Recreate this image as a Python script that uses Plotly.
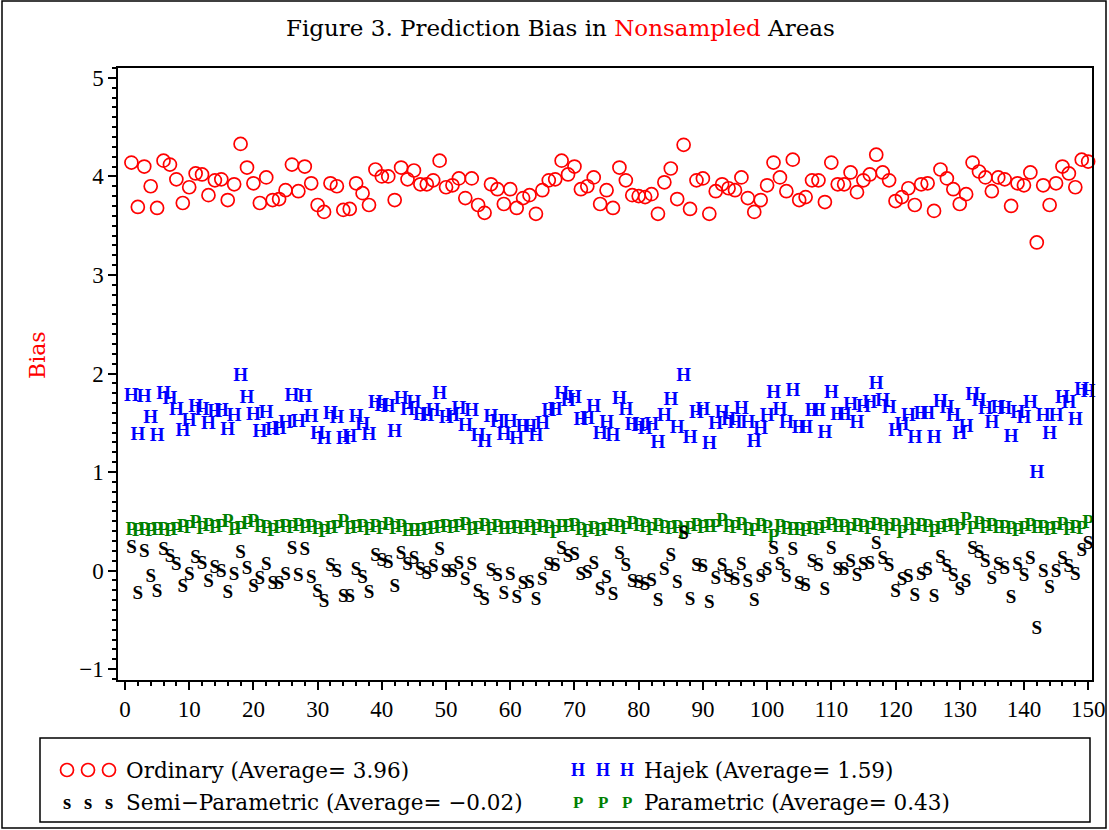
import plotly.graph_objects as go

area = list(range(1, 151))

ordinary = [4.14,3.69,4.10,3.90,3.68,4.16,4.12,3.97,3.73,3.89,
            4.03,4.02,3.81,3.96,3.97,3.76,3.92,4.33,4.09,3.93,
            3.73,3.99,3.76,3.77,3.86,4.12,3.85,4.10,3.93,3.71,
            3.64,3.93,3.90,3.66,3.67,3.93,3.83,3.71,4.07,4.00,
            4.00,3.76,4.09,3.97,4.06,3.92,3.92,3.96,4.16,3.89,
            3.91,3.98,3.78,3.98,3.71,3.63,3.92,3.87,3.72,3.87,
            3.68,3.78,3.81,3.62,3.86,3.96,3.97,4.16,4.02,4.10,
            3.87,3.90,3.99,3.72,3.86,3.68,4.09,3.96,3.81,3.80,
            3.79,3.82,3.62,3.94,4.08,3.77,4.32,3.67,3.96,3.98,
            3.62,3.85,3.92,3.88,3.86,3.99,3.78,3.64,3.76,3.91,
            4.14,3.99,3.85,4.17,3.76,3.79,3.96,3.96,3.74,4.14,
            3.92,3.92,4.04,3.84,3.96,4.02,4.22,4.04,3.96,3.75,
            3.79,3.88,3.71,3.92,3.93,3.65,4.07,3.98,3.87,3.72,
            3.82,4.14,4.05,3.99,3.85,3.99,3.97,3.70,3.93,3.91,
            4.04,3.33,3.91,3.71,3.93,4.10,4.03,3.89,4.17,4.15]

hajek = [1.77,1.37,1.76,1.55,1.36,1.79,1.74,1.63,1.41,1.52,
         1.66,1.63,1.49,1.61,1.62,1.42,1.57,1.97,1.75,1.58,
         1.40,1.60,1.42,1.43,1.50,1.77,1.51,1.76,1.56,1.38,
         1.33,1.59,1.55,1.33,1.35,1.56,1.48,1.37,1.70,1.67,
         1.66,1.40,1.74,1.63,1.70,1.58,1.57,1.62,1.79,1.55,
         1.57,1.64,1.46,1.62,1.36,1.30,1.56,1.51,1.37,1.51,
         1.33,1.45,1.45,1.36,1.49,1.62,1.63,1.79,1.72,1.75,
         1.53,1.54,1.66,1.38,1.50,1.36,1.74,1.63,1.47,1.46,
         1.43,1.47,1.29,1.57,1.73,1.44,1.97,1.34,1.60,1.63,
         1.28,1.49,1.60,1.53,1.50,1.64,1.50,1.30,1.43,1.57,
         1.80,1.63,1.50,1.82,1.44,1.44,1.62,1.62,1.39,1.80,
         1.58,1.58,1.68,1.50,1.66,1.70,1.89,1.72,1.65,1.41,
         1.48,1.57,1.34,1.59,1.59,1.34,1.71,1.65,1.57,1.38,
         1.45,1.78,1.72,1.64,1.50,1.65,1.64,1.35,1.60,1.55,
         1.70,0.99,1.57,1.38,1.57,1.75,1.70,1.53,1.83,1.81]

parametric = [0.41,0.40,0.41,0.40,0.41,0.41,0.40,0.41,0.44,0.43,
              0.48,0.42,0.45,0.43,0.44,0.49,0.41,0.42,0.47,0.49,
              0.44,0.43,0.40,0.43,0.44,0.43,0.45,0.43,0.44,0.42,
              0.39,0.42,0.43,0.49,0.42,0.43,0.44,0.41,0.44,0.42,
              0.46,0.42,0.44,0.40,0.40,0.40,0.41,0.42,0.43,0.44,
              0.43,0.44,0.46,0.41,0.42,0.45,0.41,0.44,0.42,0.42,
              0.43,0.42,0.44,0.41,0.44,0.43,0.38,0.44,0.44,0.45,
              0.41,0.39,0.42,0.40,0.41,0.45,0.44,0.42,0.47,0.45,
              0.44,0.41,0.45,0.43,0.42,0.43,0.38,0.42,0.45,0.43,
              0.44,0.44,0.50,0.44,0.43,0.46,0.41,0.40,0.45,0.43,
              0.34,0.44,0.42,0.41,0.41,0.40,0.42,0.41,0.43,0.46,
              0.44,0.44,0.41,0.45,0.44,0.42,0.46,0.45,0.41,0.45,
              0.38,0.46,0.41,0.45,0.44,0.39,0.42,0.44,0.45,0.41,
              0.51,0.42,0.47,0.43,0.45,0.43,0.43,0.42,0.40,0.42,
              0.45,0.43,0.43,0.41,0.42,0.46,0.41,0.43,0.42,0.48]

semi = [0.23,-0.24,0.19,-0.07,-0.22,0.21,0.14,0.05,-0.17,-0.05,
        0.13,0.06,-0.12,0.02,-0.02,-0.23,-0.05,0.18,0.01,-0.17,
        -0.09,0.05,-0.14,-0.14,-0.05,0.22,-0.06,0.21,-0.08,-0.22,
        -0.32,0.04,-0.02,-0.27,-0.27,0.00,-0.08,-0.23,0.15,0.10,
        0.07,-0.17,0.17,0.05,0.12,0.00,-0.04,0.03,0.21,-0.02,
        -0.02,0.06,-0.10,0.05,-0.22,-0.30,-0.01,-0.06,-0.24,-0.05,
        -0.28,-0.14,-0.13,-0.30,-0.10,0.05,0.04,0.22,0.14,0.16,
        -0.05,-0.03,0.06,-0.20,-0.08,-0.25,0.17,0.04,-0.12,-0.13,
        -0.15,-0.11,-0.31,0.00,0.15,-0.13,0.37,-0.30,0.04,0.03,
        -0.33,-0.09,0.04,-0.07,-0.10,0.05,-0.12,-0.31,-0.07,0.00,
        0.22,0.05,-0.07,0.21,-0.14,-0.16,0.08,0.04,-0.20,0.22,
        0.00,0.00,0.08,-0.06,0.05,0.06,0.27,0.12,0.04,-0.22,
        -0.10,-0.07,-0.26,-0.05,0.00,-0.27,0.13,0.03,-0.06,-0.20,
        -0.12,0.22,0.18,0.08,-0.09,0.05,0.01,-0.28,0.05,-0.06,
        0.12,-0.59,-0.02,-0.18,-0.02,0.12,0.03,-0.05,0.20,0.27]

legend_labels = ["Ordinary (Average= 3.96)", "Hajek (Average= 1.59)",
                 "Semi\u2212Parametric (Average= \u22120.02)", "Parametric (Average= 0.43)"]

RED, BLUE, GREEN, BLACK = "#ff0000", "#0000ff", "#008000", "#000000"
SERIF = "DejaVu Serif"
TIMES = "Liberation Serif"

W, H = 1109, 830
L, R, T, B = 118, 1092, 68, 680


def px(x):
    return (x - L) / (R - L)


def py(y):
    return (B - y) / (B - T)


def symfont(color, size=19, bold=True):
    return dict(family=TIMES, size=size, color=color, weight="bold" if bold else "normal")


fig = go.Figure()
fig.add_trace(go.Scatter(x=area, y=ordinary, mode="markers",
                         marker=dict(symbol="circle-open", size=13, color=RED,
                                     line=dict(width=1.7, color=RED)),
                         showlegend=False, cliponaxis=False))
fig.add_trace(go.Scatter(x=area, y=hajek, mode="text", text=["H"] * len(area),
                         textfont=symfont(BLUE), showlegend=False, cliponaxis=False))
fig.add_trace(go.Scatter(x=area, y=parametric, mode="text", text=["P"] * len(area),
                         textfont=symfont(GREEN), showlegend=False, cliponaxis=False))
fig.add_trace(go.Scatter(x=area, y=semi, mode="text", text=["S"] * len(area),
                         textfont=symfont(BLACK), showlegend=False, cliponaxis=False))

shapes = []
annotations = []

# legend box
shapes.append(dict(type="rect", xref="paper", yref="paper",
                   x0=px(40), x1=px(1090), y0=py(822), y1=py(738),
                   line=dict(color="black", width=1.5)))
# outer frame
shapes.append(dict(type="rect", xref="paper", yref="paper",
                   x0=px(2), x1=px(1106), y0=py(828), y1=py(1),
                   line=dict(color="black", width=1.5)))

row1, row2 = 770, 802
sym_x_left = [67, 88, 109]
sym_x_right = [578, 603, 627]
for xx in sym_x_left:
    shapes.append(dict(type="circle", xref="paper", yref="paper",
                       xsizemode="pixel", ysizemode="pixel",
                       xanchor=px(xx), yanchor=py(row1),
                       x0=-6.5, x1=6.5, y0=-6.5, y1=6.5,
                       line=dict(color=RED, width=1.7)))
    annotations.append(dict(x=px(xx), y=py(row2), xref="paper", yref="paper",
                            xanchor="center", yanchor="middle",
                            text="s", showarrow=False, font=symfont(BLACK, 21)))
for xx in sym_x_right:
    annotations.append(dict(x=px(xx), y=py(row1), xref="paper", yref="paper",
                            xanchor="center", yanchor="middle",
                            text="H", showarrow=False, font=symfont(BLUE, 18)))
    annotations.append(dict(x=px(xx), y=py(row2), xref="paper", yref="paper",
                            xanchor="center", yanchor="middle",
                            text="P", showarrow=False, font=symfont(GREEN, 17)))

lab_font = dict(family=SERIF, size=21.5, color="black")
for lab, xx, yy in [(legend_labels[0], 124, row1), (legend_labels[1], 642, row1),
                    (legend_labels[2], 124, row2), (legend_labels[3], 642, row2)]:
    annotations.append(dict(x=px(xx), y=py(yy), xref="paper", yref="paper",
                            xanchor="left", yanchor="middle", text=lab,
                            showarrow=False, font=lab_font))

# title
annotations.append(dict(x=px(560), y=py(28), xref="paper", yref="paper",
                        xanchor="center", yanchor="middle", showarrow=False,
                        text="Figure 3. Prediction Bias in <span style='color:#ff0000'>Nonsampled</span> Areas",
                        font=dict(family=SERIF, size=23, color="black")))
# y label
annotations.append(dict(x=px(37), y=py(355), xref="paper", yref="paper",
                        xanchor="center", yanchor="middle", showarrow=False,
                        text="Bias", textangle=-90,
                        font=dict(family=SERIF, size=22, color=RED)))

fig.update_layout(
    width=W, height=H,
    margin=dict(l=L, r=W - R, t=T, b=H - B, autoexpand=False),
    paper_bgcolor="white", plot_bgcolor="white",
    shapes=shapes, annotations=annotations,
    showlegend=False,
)
fig.update_xaxes(range=[-1.09, 150.6], tickmode="linear", tick0=0, dtick=10,
                 automargin=False,
                 showgrid=False, zeroline=False, showline=True, linecolor="black",
                 linewidth=1.5, mirror=True, ticks="outside", ticklen=8,
                 tickwidth=1.5, tickcolor="black",
                 tickfont=dict(family=TIMES, size=23, color="black"),
                 minor=dict(dtick=2, ticks="outside", ticklen=4, tickcolor="black", showgrid=False))
fig.update_yaxes(range=[-1.11, 5.10], tickmode="linear", tick0=0, dtick=1,
                 automargin=False,
                 showgrid=False, zeroline=False, showline=True, linecolor="black",
                 linewidth=1.5, mirror=True, ticks="outside", ticklen=8,
                 tickwidth=1.5, tickcolor="black",
                 tickfont=dict(family=TIMES, size=23, color="black"),
                 minor=dict(dtick=0.1, ticks="outside", ticklen=4, tickcolor="black", showgrid=False))

fig.write_html("out.html", config={"displayModeBar": False},
               post_script="document.body.style.margin='0';")
